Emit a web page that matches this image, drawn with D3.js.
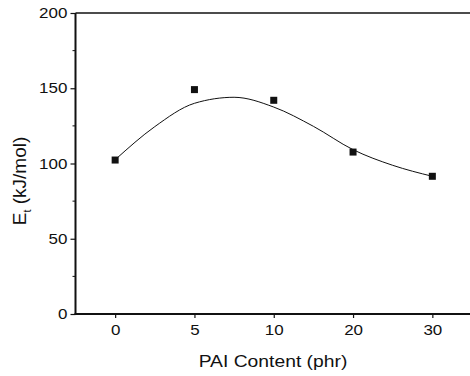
<!DOCTYPE html>
<html>
<head>
<meta charset="utf-8">
<script src="https://cdn.jsdelivr.net/npm/d3@7"></script>
<style>
  body { margin: 0; background: #fff; }
  svg { display: block; font-family: "Liberation Sans", Arial, sans-serif; }
</style>
</head>
<body>
<div id="chart"></div>
<script>
// PAI content categories (equally spaced on the axis)
const categories = ["0", "5", "10", "20", "30"];
// measured activation energy Et (kJ/mol)
const etValues = [102.3, 149.1, 142.0, 107.6, 91.5];
// fitted curve, sampled along category index
const fitPos = [0, 0.5, 1, 1.5, 2, 2.5, 3, 3.5, 4];
const fitVal = [102.5, 124.5, 140, 144, 137.5, 124.7, 109.2, 98.8, 91.5];
const yTicks = [0, 50, 100, 150, 200];
const yMinor = [25, 75, 125, 175];

const width = 470, height = 376;
const plotL = 75.5, plotR = 472, plotT = 13, plotB = 314;
const ink = "#111";
const stretch = 1.17; // the scan is a bit wider than tall

const svg = d3.select("#chart").append("svg")
    .attr("width", width)
    .attr("height", height);

const x = d3.scaleLinear().domain([-0.5, 4.5]).range([plotL, plotR]);
const y = d3.scaleLinear().domain([0, 200]).range([plotB, plotT]);

// top frame line
svg.append("line")
    .attr("x1", plotL).attr("x2", width)
    .attr("y1", y(200)).attr("y2", y(200))
    .attr("stroke", ink).attr("stroke-width", 1.5);

// y axis
const yAxis = svg.append("g")
    .attr("transform", `translate(${plotL},0)`)
    .call(d3.axisLeft(y).tickValues(yTicks).tickSize(5).tickPadding(2));
yAxis.select(".domain").attr("stroke", ink).attr("stroke-width", 2)
    .attr("d", `M0,${plotT}V${plotB + 1}`);
yAxis.selectAll(".tick line").attr("stroke", ink).attr("stroke-width", 1.2);
yAxis.selectAll(".tick text").attr("fill", ink)
    .attr("transform", `scale(${stretch},1)`)
    .style("font-size", "14.5px").style("font-family", "Liberation Sans, Arial, sans-serif");

svg.append("g").selectAll("line").data(yMinor).join("line")
    .attr("x1", plotL - 3).attr("x2", plotL)
    .attr("y1", d => y(d)).attr("y2", d => y(d))
    .attr("stroke", ink).attr("stroke-width", 1);

// x axis
const xAxis = svg.append("g")
    .attr("transform", `translate(0,${plotB})`)
    .call(d3.axisBottom(x).tickValues(d3.range(categories.length))
        .tickFormat(i => categories[i]).tickSize(4).tickPadding(7));
xAxis.select(".domain").attr("stroke", ink).attr("stroke-width", 2)
    .attr("d", `M${plotL - 1},0H${width}`);
xAxis.selectAll(".tick line").attr("stroke", ink).attr("stroke-width", 1.2);
xAxis.selectAll(".tick text").attr("fill", ink)
    .attr("transform", `scale(${stretch},1)`)
    .style("font-size", "14.5px").style("font-family", "Liberation Sans, Arial, sans-serif");

// axis titles
svg.append("text")
    .attr("transform", `translate(273,367) scale(${stretch},1)`)
    .attr("text-anchor", "middle")
    .attr("fill", ink)
    .style("font-size", "16.5px")
    .text("PAI Content (phr)");

const yt = svg.append("text")
    .attr("transform", "translate(26,181) rotate(-90)")
    .attr("text-anchor", "middle")
    .attr("fill", ink)
    .style("font-size", "19px");
yt.append("tspan").text("E");
yt.append("tspan").attr("dy", 5).style("font-size", "11px").text("t");
yt.append("tspan").attr("dy", -5).text(" (kJ/mol)");

// fitted curve
const fit = fitPos.map((p, i) => [p, fitVal[i]]);
svg.append("path")
    .datum(fit)
    .attr("fill", "none")
    .attr("stroke", ink)
    .attr("stroke-width", 1)
    .attr("d", d3.line().x(d => x(d[0])).y(d => y(d[1])).curve(d3.curveMonotoneX));

// data squares
const s = 7;
svg.append("g").selectAll("rect").data(etValues).join("rect")
    .attr("x", (d, i) => x(i) - s / 2)
    .attr("y", d => y(d) - s / 2)
    .attr("width", s).attr("height", s)
    .attr("fill", ink);
</script>
</body>
</html>
